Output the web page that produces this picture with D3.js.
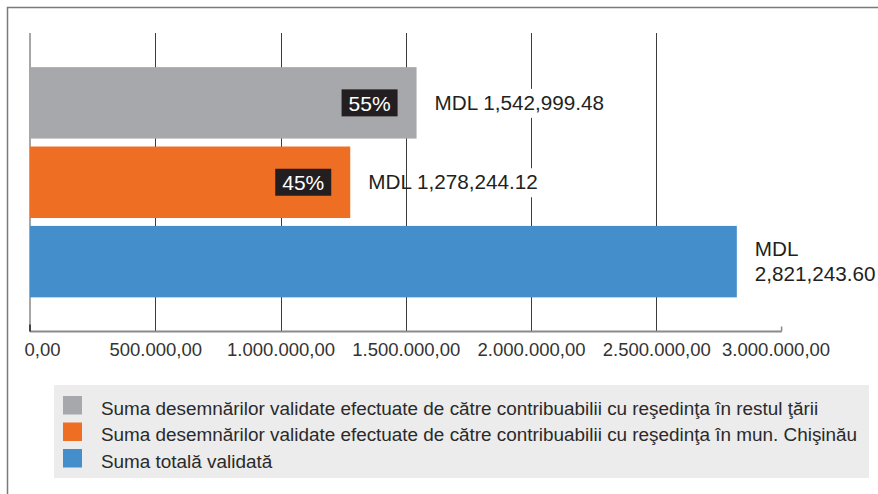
<!DOCTYPE html>
<html><head><meta charset="utf-8">
<script src="https://cdn.jsdelivr.net/npm/d3@7"></script>
<style>
html,body{margin:0;padding:0;background:#fff;}
svg{display:block;font-family:"Liberation Sans",Arial,sans-serif;}
</style></head>
<body><svg id="c" width="878" height="494"></svg>
<script>
const categories = [
  "Suma desemnărilor validate efectuate de către contribuabilii cu reşedinţa în restul ţării",
  "Suma desemnărilor validate efectuate de către contribuabilii cu reşedinţa în mun. Chişinău",
  "Suma totală validată"
];
const values = [1542999.48, 1278244.12, 2821243.60];
const shares = ["55%", "45%", null];
const colors = ["#a7a8ab", "#ee6e24", "#438ecb"];
const tickValues = [0, 500000, 1000000, 1500000, 2000000, 2500000, 3000000];

(function () {
const svg = d3.select("#c");
const W = 878;
const roLocale = d3.formatLocale({decimal: ",", thousands: ".", grouping: [3], currency: ["", ""]});
const tickFmt = roLocale.format(",.2f");
const valFmt = d3.format(",.2f");
const valSize = 20.7;

// frame
svg.append("rect").attr("x", 7.5).attr("y", 7.5).attr("width", 1000).attr("height", 1000)
  .attr("fill", "none").attr("stroke", "#7a7a7a").attr("stroke-width", 1.5);

const x = d3.scaleLinear().domain([0, 3000000]).range([30, 781.6]);
const plotTop = 33, base = 331.5;
const y = d3.scaleBand().domain(categories).range([plotTop, base]).paddingInner(0.1).paddingOuter(0.43);

// gridlines
svg.append("g").selectAll("line").data(tickValues.slice(1, -1)).join("line")
  .attr("x1", d => Math.round(x(d)) + 0.5).attr("x2", d => Math.round(x(d)) + 0.5)
  .attr("y1", plotTop).attr("y2", base)
  .attr("stroke", "#3c3c3c").attr("stroke-width", 1);
svg.append("line").attr("x1", x(0)).attr("x2", x(0)).attr("y1", plotTop).attr("y2", base)
  .attr("stroke", "#8a8a8a").attr("stroke-width", 1.5);

// bars
svg.append("g").selectAll("rect").data(categories).join("rect")
  .attr("x", x(0)).attr("y", d => y(d))
  .attr("width", (d, i) => x(values[i]) - x(0))
  .attr("height", y.bandwidth())
  .attr("fill", (d, i) => colors[i]);

// x axis
const xAxis = d3.axisBottom(x).tickValues(tickValues).tickFormat(tickFmt).tickSize(0).tickPadding(0);
const ax = svg.append("g").attr("transform", `translate(0,${base})`).call(xAxis);
ax.select(".domain").attr("stroke", "#8a8a8a").attr("stroke-width", 2).attr("d", `M${x(0)},0H${x(3000000)}`);
ax.selectAll(".tick text").attr("font-size", 18.5).attr("fill", "#333").attr("font-family", "Liberation Sans, Arial, sans-serif")
  .attr("dy", null).attr("y", 24)
  .attr("dx", (d, i) => i === 0 ? 12 : (i === tickValues.length - 1 ? -6 : 0));
ax.append("line").attr("x1", x(0)).attr("x2", x(0)).attr("y1", -7).attr("y2", 0).attr("stroke", "#222").attr("stroke-width", 1.5);
ax.append("line").attr("x1", x(3000000)).attr("x2", x(3000000)).attr("y1", -5).attr("y2", 0).attr("stroke", "#8a8a8a").attr("stroke-width", 1.5);

const backs = svg.append("g");
const labels = svg.append("g");

// percent labels
categories.forEach((c, i) => {
  if (!shares[i]) return;
  const cy = y(c) + y.bandwidth() / 2;
  const right = x(values[i]) - 19;
  labels.append("rect").attr("x", right - 56).attr("y", cy - 13.5).attr("width", 56).attr("height", 27).attr("fill", "#231f20");
  labels.append("text").attr("x", right - 28).attr("y", cy + 8).attr("text-anchor", "middle")
    .attr("font-size", 21).attr("fill", "#fff").text(shares[i]);
});

// value labels
categories.forEach((c, i) => {
  const cy = y(c) + y.bandwidth() / 2;
  const lx = x(values[i]) + 18;
  const full = "MDL " + valFmt(values[i]);
  const t = labels.append("text").attr("x", lx).attr("font-size", valSize).attr("fill", "#231f20").text(full);
  const w = t.node().getComputedTextLength();
  if (lx + w > W - 10) {
    t.text(null).attr("y", cy - 5.5);
    t.append("tspan").attr("x", lx).text("MDL");
    t.append("tspan").attr("x", lx).attr("dy", 25).text(valFmt(values[i]));
  } else {
    t.attr("y", cy + 7);
    const tmp = labels.append("text").attr("font-size", valSize).text("MDL ");
    const off = tmp.node().getComputedTextLength(); tmp.remove();
    backs.append("rect").attr("x", lx + off).attr("y", cy - 14).attr("width", w - off).attr("height", 29).attr("fill", "#fff");
  }
});

// legend
const lg = svg.append("g");
lg.append("rect").attr("x", 54).attr("y", 385).attr("width", 815).attr("height", 93).attr("fill", "#ececec");
const rows = lg.selectAll("g.row").data(categories).join("g").attr("class", "row")
  .attr("transform", (d, i) => `translate(63,${396 + i * 26.5})`);
rows.append("rect").attr("width", 19).attr("height", 18.5).attr("fill", (d, i) => colors[i]);
rows.append("text").attr("x", 38).attr("y", 18.5).attr("font-size", 18.9).attr("fill", "#2a2a2a").text(d => d);
})();
</script></body></html>
